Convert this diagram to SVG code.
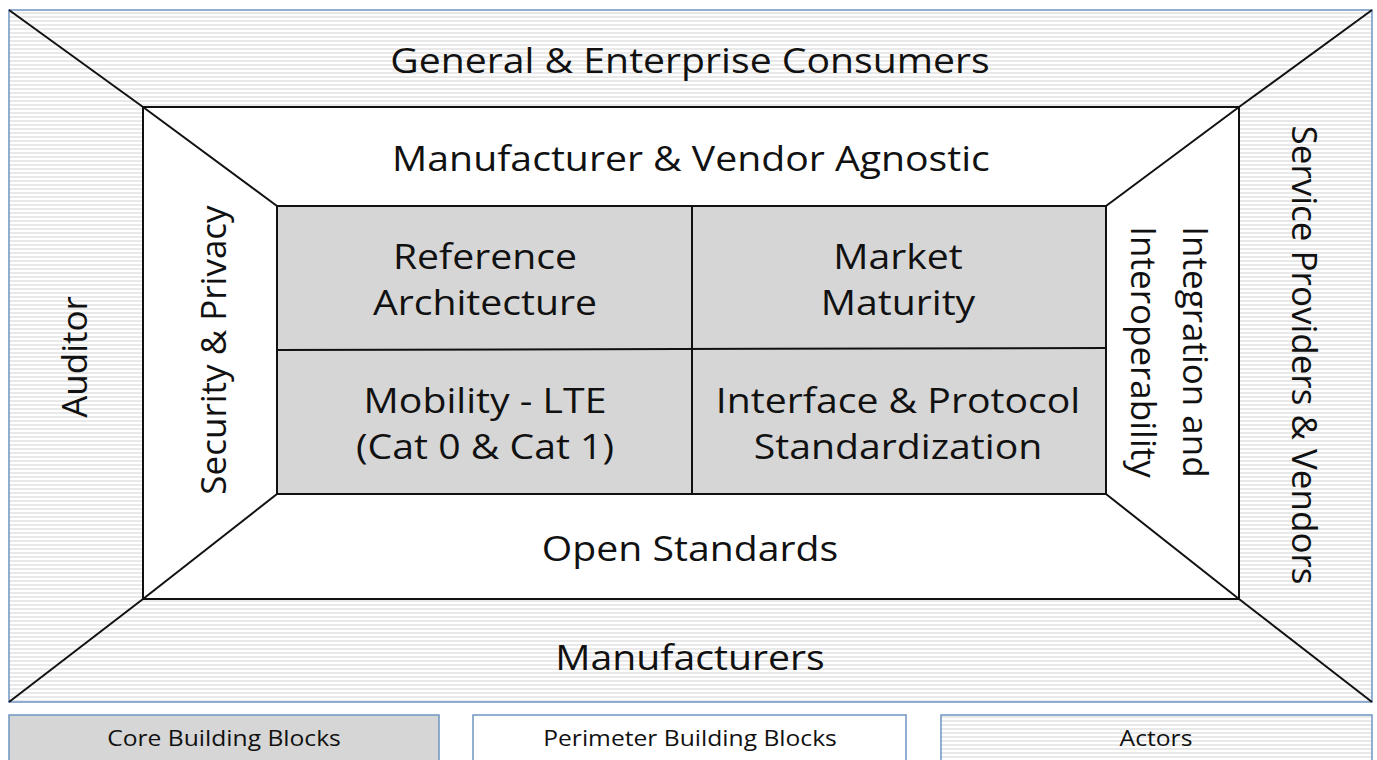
<svg xmlns="http://www.w3.org/2000/svg" width="1377" height="760" viewBox="0 0 1377 760">
<style>
.t{font-family:"Open Sans","Noto Sans",sans-serif;fill:#111;text-anchor:middle;}
.big{font-size:35px;}
.lg{font-size:22px;}
.ln{stroke:#111;stroke-width:2;}
.blue{stroke:#6f95c4;stroke-width:1.5;}
</style>
<defs>
<pattern id="hatch" x="0" y="0" width="8" height="4" patternUnits="userSpaceOnUse">
<rect width="8" height="4" fill="#ffffff"/>
<rect y="0" width="8" height="2" fill="#e9e9e9"/>
</pattern>
</defs>
<rect width="1377" height="760" fill="#ffffff"/>
<g id="actors-frame">
<rect x="9" y="10" width="1363" height="692" fill="url(#hatch)" class="blue"/>
</g>
<g id="perimeter">
<rect x="143" y="107" width="1096" height="492" fill="#ffffff" class="ln"/>
</g>
<g id="core">
<rect x="277" y="206" width="829" height="288" fill="#d6d6d6" class="ln"/>
</g>
<g id="connectors" fill="none">
<line x1="9" y1="10" x2="143" y2="107" class="ln"/>
<line x1="143" y1="107" x2="277" y2="206" class="ln"/>
<line x1="1372" y1="10" x2="1239" y2="107" class="ln"/>
<line x1="1239" y1="107" x2="1106" y2="206" class="ln"/>
<line x1="9" y1="702" x2="143" y2="599" class="ln"/>
<line x1="143" y1="599" x2="277" y2="494" class="ln"/>
<line x1="1372" y1="702" x2="1239" y2="599" class="ln"/>
<line x1="1239" y1="599" x2="1106" y2="494" class="ln"/>
<line x1="692" y1="206" x2="692" y2="494" class="ln"/>
<line x1="277" y1="350" x2="1106" y2="348" class="ln"/>
</g>
<g id="node-consumers"><text class="t big" transform="translate(690,73) scale(1.12,1)">General &amp; Enterprise Consumers</text></g>
<g id="node-manufacturers"><text class="t big" transform="translate(690,670) scale(1.12,1)">Manufacturers</text></g>
<g id="node-auditor"><text class="t big" transform="translate(87,357) rotate(-90)">Auditor</text></g>
<g id="node-service"><text class="t big" transform="translate(1292,355) rotate(90)">Service Providers &amp; Vendors</text></g>
<g id="node-agnostic"><text class="t big" transform="translate(691,171) scale(1.12,1)">Manufacturer &amp; Vendor Agnostic</text></g>
<g id="node-open"><text class="t big" transform="translate(690,561) scale(1.12,1)">Open Standards</text></g>
<g id="node-security"><text class="t big" transform="translate(226,350) rotate(-90)">Security &amp; Privacy</text></g>
<g id="node-integration"><text class="t big" transform="translate(1183,352) rotate(90)">Integration and</text><text class="t big" transform="translate(1131,352) rotate(90)">Interoperability</text></g>
<g id="node-reference"><text class="t big" transform="translate(485,269) scale(1.12,1)">Reference</text><text class="t big" transform="translate(485,315) scale(1.12,1)">Architecture</text></g>
<g id="node-market"><text class="t big" transform="translate(898,269) scale(1.12,1)">Market</text><text class="t big" transform="translate(898,315) scale(1.12,1)">Maturity</text></g>
<g id="node-mobility"><text class="t big" transform="translate(485,413) scale(1.12,1)">Mobility - LTE</text><text class="t big" transform="translate(485,459) scale(1.12,1)">(Cat 0 &amp; Cat 1)</text></g>
<g id="node-interface"><text class="t big" transform="translate(898,413) scale(1.12,1)">Interface &amp; Protocol</text><text class="t big" transform="translate(898,459) scale(1.12,1)">Standardization</text></g>
<g id="legend-core"><rect x="9" y="715" width="430" height="60" fill="#d6d6d6" class="blue"/><text class="t lg" transform="translate(224,746) scale(1.12,1)">Core Building Blocks</text></g>
<g id="legend-perimeter"><rect x="473" y="715" width="433" height="60" fill="#ffffff" class="blue"/><text class="t lg" transform="translate(690,746) scale(1.12,1)">Perimeter Building Blocks</text></g>
<g id="legend-actors"><rect x="941" y="715" width="431" height="60" fill="url(#hatch)" class="blue"/><text class="t lg" transform="translate(1156,746) scale(1.12,1)">Actors</text></g>
</svg>
